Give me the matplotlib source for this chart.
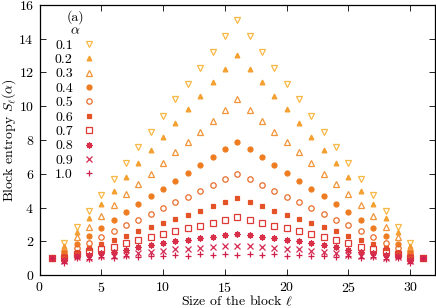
import matplotlib
matplotlib.use("Agg")
import matplotlib.pyplot as plt

plt.rcParams['font.family'] = 'serif'
plt.rcParams['font.serif'] = ['cmr10', 'DejaVu Serif']
plt.rcParams['mathtext.fontset'] = 'cm'
plt.rcParams['axes.formatter.use_mathtext'] = True

ell = list(range(1, 32))
alphas = ['0.1', '0.2', '0.3', '0.4', '0.5', '0.6', '0.7', '0.8', '0.9', '1.0']

S01 = [1.00, 1.92, 2.85, 3.80, 4.76, 5.68, 6.62, 7.57, 8.50, 9.45, 10.40, 11.34, 12.28, 13.21, 14.18, 15.11,
       14.18, 13.21, 12.28, 11.34, 10.40, 9.45, 8.50, 7.57, 6.62, 5.68, 4.76, 3.80, 2.85, 1.92, 1.00]
S02 = [1.00, 1.72, 2.57, 3.38, 4.20, 5.00, 5.82, 6.61, 7.41, 8.20, 9.03, 9.82, 10.63, 11.42, 12.21, 13.04,
       12.21, 11.42, 10.63, 9.82, 9.03, 8.20, 7.41, 6.61, 5.82, 5.00, 4.20, 3.38, 2.57, 1.72, 1.00]
S03 = [1.00, 1.58, 2.23, 2.86, 3.49, 4.13, 4.78, 5.37, 5.99, 6.61, 7.26, 7.86, 8.49, 9.14, 9.78, 10.41,
       9.78, 9.14, 8.49, 7.86, 7.26, 6.61, 5.99, 5.37, 4.78, 4.13, 3.49, 2.86, 2.23, 1.58, 1.00]
S04 = [1.00, 1.38, 1.86, 2.32, 2.79, 3.26, 3.72, 4.19, 4.68, 5.12, 5.57, 6.04, 6.52, 6.97, 7.45, 7.90,
       7.45, 6.97, 6.52, 6.04, 5.57, 5.12, 4.68, 4.19, 3.72, 3.26, 2.79, 2.32, 1.86, 1.38, 1.00]
S05 = [1.00, 1.24, 1.62, 1.90, 2.23, 2.61, 2.96, 3.26, 3.63, 3.97, 4.30, 4.63, 4.98, 5.32, 5.66, 5.97,
       5.66, 5.32, 4.98, 4.63, 4.30, 3.97, 3.63, 3.26, 2.96, 2.61, 2.23, 1.90, 1.62, 1.24, 1.00]
S06 = [1.00, 1.13, 1.38, 1.62, 1.85, 2.09, 2.33, 2.59, 2.83, 3.09, 3.32, 3.57, 3.82, 4.07, 4.32, 4.54,
       4.32, 4.07, 3.82, 3.57, 3.32, 3.09, 2.83, 2.59, 2.33, 2.09, 1.85, 1.62, 1.38, 1.13, 1.00]
S07 = [1.00, 0.99, 1.23, 1.42, 1.55, 1.68, 1.88, 2.07, 2.23, 2.42, 2.60, 2.76, 2.91, 3.10, 3.26, 3.42,
       3.26, 3.10, 2.91, 2.76, 2.60, 2.42, 2.23, 2.07, 1.88, 1.68, 1.55, 1.42, 1.23, 0.99, 1.00]
S08 = [1.00, 0.89, 1.15, 1.18, 1.30, 1.38, 1.50, 1.64, 1.78, 1.90, 2.00, 2.07, 2.17, 2.27, 2.39, 2.45,
       2.39, 2.27, 2.17, 2.07, 2.00, 1.90, 1.78, 1.64, 1.50, 1.38, 1.30, 1.18, 1.15, 0.89, 1.00]
S09 = [1.00, 0.83, 1.05, 1.02, 1.12, 1.12, 1.19, 1.29, 1.38, 1.45, 1.52, 1.53, 1.59, 1.65, 1.72, 1.70,
       1.72, 1.65, 1.59, 1.53, 1.52, 1.45, 1.38, 1.29, 1.19, 1.12, 1.12, 1.02, 1.05, 0.83, 1.00]
S10 = [1.00, 0.69, 0.99, 0.95, 1.08, 1.02, 1.10, 1.09, 1.13, 1.14, 1.20, 1.13, 1.22, 1.16, 1.24, 1.16,
       1.24, 1.16, 1.22, 1.13, 1.20, 1.14, 1.13, 1.09, 1.10, 1.02, 1.08, 0.95, 0.99, 0.69, 1.00]
series = [S01, S02, S03, S04, S05, S06, S07, S08, S09, S10]

colors = ['#f7b846', '#f4a030', '#f29438', '#ee7d22', '#ea6d2c',
          '#e45227', '#de3b37', '#d9304a', '#d42a52', '#d0204a']
markers = ['v', '^', '^', 'o', 'o', 's', 's', (8, 2, 0), 'x', '+']
filled = [False, True, False, True, False, True, False, True, True, True]
sizes = [4.3, 3.4, 4.3, 3.6, 3.9, 3.4, 3.9, 4.4, 3.8, 4.4]

fig = plt.figure(figsize=(4.36, 3.08), dpi=100)
ax = fig.add_axes([0.0906, 0.107, 0.907, 0.877])

for vals, a, c, m, f, s in zip(series, alphas, colors, markers, filled, sizes):
    ax.plot(ell, vals, linestyle='none', marker=m, markersize=s,
            markeredgecolor=c, markerfacecolor=(c if f else 'none'),
            markeredgewidth=0.9, label=a)

ax.set_xlim(0, 32)
ax.set_ylim(0, 16)
ax.set_xticks([0, 5, 10, 15, 20, 25, 30])
ax.set_yticks([0, 2, 4, 6, 8, 10, 12, 14, 16])
ax.tick_params(direction='in', top=True, right=True, labelsize=10, length=4, width=0.6, pad=4)
for sp in ax.spines.values():
    sp.set_linewidth(0.9)

ax.set_xlabel(r'Size of the block $\ell$', fontsize=10, labelpad=-0.5)
ax.set_ylabel(r'Block entropy $S_\ell(\alpha)$', fontsize=10, labelpad=0.5)

ax.text(0.09, 0.955, '(a)', transform=ax.transAxes, ha='center', va='center', fontsize=10)
leg = ax.legend(loc='upper left', bbox_to_anchor=(0.039, 0.925), frameon=False, markerfirst=False,
                title=r'$\alpha$', fontsize=10, title_fontsize=10, handlelength=0.8,
                handletextpad=0.8, labelspacing=0.12, borderpad=0.0, borderaxespad=0.0)

fig.savefig('out.png', dpi=100)
